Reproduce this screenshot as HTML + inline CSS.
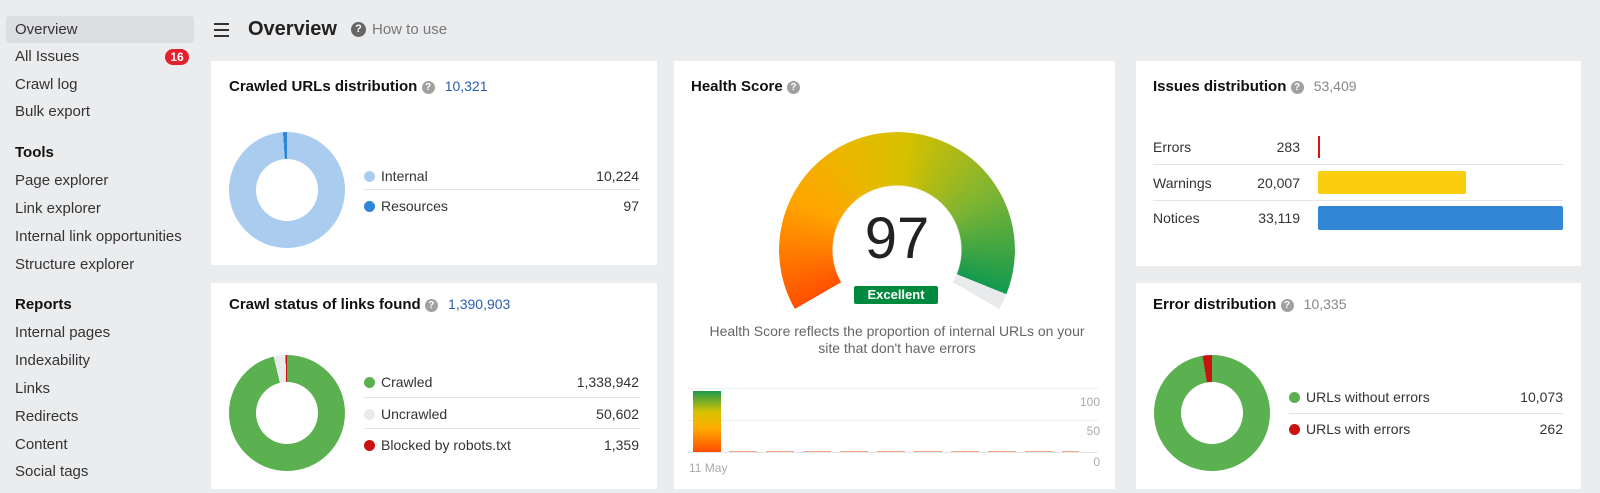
<!DOCTYPE html>
<html><head><meta charset="utf-8"><style>
*{margin:0;padding:0;box-sizing:border-box}
body{width:1600px;height:493px;background:#ebecee;font-family:"Liberation Sans",Arial,sans-serif;color:#333;position:relative;overflow:hidden}
.a{position:absolute;white-space:nowrap}
.sb{font-size:15px;color:#333;left:15px;line-height:18px}
.card{position:absolute;background:#fff}
.tt{font-size:15px;font-weight:bold;color:#111}
.q{display:inline-block;width:13px;height:13px;border-radius:50%;background:#a0a0a0;color:#fff;font-size:10px;font-weight:bold;text-align:center;line-height:13px;vertical-align:1px}
.blue{color:#2a5fb0}
.donut{position:absolute;width:116px;height:116px;border-radius:50%}
.donut::after{content:"";position:absolute;left:27px;top:27px;width:62px;height:62px;border-radius:50%;background:#fff}
.dot{position:absolute;width:11px;height:11px;border-radius:50%}
.lg{font-size:14px;color:#333}
.sep{position:absolute;height:1px;background:#e4e5e8}
</style></head><body>
<div class="a" style="left:6px;top:16px;width:188px;height:27px;background:#dcdee2;border-radius:3px"></div>
<div class="a sb" style="top:21px">Overview</div>
<div class="a sb" style="top:48px">All Issues</div>
<div class="a" style="left:165px;top:49px;width:24px;height:16px;border-radius:8px;background:#e5202e;color:#fff;font-size:12px;font-weight:bold;text-align:center;line-height:16px">16</div>
<div class="a sb" style="top:76px">Crawl log</div>
<div class="a sb" style="top:103px">Bulk export</div>
<div class="a sb" style="top:144px;font-weight:bold;color:#111">Tools</div>
<div class="a sb" style="top:172px">Page explorer</div>
<div class="a sb" style="top:200px">Link explorer</div>
<div class="a sb" style="top:228px">Internal link opportunities</div>
<div class="a sb" style="top:256px">Structure explorer</div>
<div class="a sb" style="top:296px;font-weight:bold;color:#111">Reports</div>
<div class="a sb" style="top:324px">Internal pages</div>
<div class="a sb" style="top:352px">Indexability</div>
<div class="a sb" style="top:380px">Links</div>
<div class="a sb" style="top:408px">Redirects</div>
<div class="a sb" style="top:436px">Content</div>
<div class="a sb" style="top:463px">Social tags</div>

<div class="a" style="left:214px;top:23px;width:15px;height:2px;background:#333;box-shadow:0 6px 0 #333,0 12px 0 #333"></div>
<div class="a" style="left:248px;top:18px;font-size:20px;font-weight:bold;color:#222">Overview</div>
<div class="a" style="left:351px;top:22px;width:15px;height:15px;border-radius:50%;background:#666;color:#fff;font-size:11px;font-weight:bold;text-align:center;line-height:15px">?</div>
<div class="a" style="left:372px;top:21px;font-size:15px;color:#777">How to use</div>

<!-- card1 -->
<div class="card" style="left:211px;top:61px;width:446px;height:204px">
 <div class="a tt" style="left:18px;top:17px">Crawled URLs distribution <span class="q">?</span> <span class="blue" style="font-weight:normal;font-size:14px;margin-left:6px">10,321</span></div>
 <div class="donut" style="left:18px;top:71px;background:conic-gradient(#a9ccef 0 98.9%,#2e86d6 98.9% 100%)"></div>
 <div class="dot" style="left:153px;top:110px;background:#a9ccef"></div>
 <div class="a lg" style="left:170px;top:107px">Internal</div>
 <div class="a lg" style="right:18px;top:107px">10,224</div>
 <div class="sep" style="left:153px;width:276px;top:128px"></div>
 <div class="dot" style="left:153px;top:140px;background:#2e86d6"></div>
 <div class="a lg" style="left:170px;top:137px">Resources</div>
 <div class="a lg" style="right:18px;top:137px">97</div>
</div>

<!-- card2 -->
<div class="card" style="left:211px;top:283px;width:446px;height:206px">
 <div class="a tt" style="left:18px;top:13px">Crawl status of links found <span class="q">?</span> <span class="blue" style="font-weight:normal;font-size:14px;margin-left:6px">1,390,903</span></div>
 <div class="donut" style="left:18px;top:72px;background:conic-gradient(#5bb04f 0 96.3%,#e9eaec 96.3% 99.6%,#cc1111 99.6% 100%)"></div>
 <div class="dot" style="left:153px;top:94px;background:#5bb04f"></div>
 <div class="a lg" style="left:170px;top:91px">Crawled</div>
 <div class="a lg" style="right:18px;top:91px">1,338,942</div>
 <div class="sep" style="left:153px;width:276px;top:114px"></div>
 <div class="dot" style="left:153px;top:126px;background:#e9eaec"></div>
 <div class="a lg" style="left:170px;top:123px">Uncrawled</div>
 <div class="a lg" style="right:18px;top:123px">50,602</div>
 <div class="sep" style="left:153px;width:276px;top:145px"></div>
 <div class="dot" style="left:153px;top:157px;background:#cc1111"></div>
 <div class="a lg" style="left:170px;top:154px">Blocked by robots.txt</div>
 <div class="a lg" style="right:18px;top:154px">1,359</div>
</div>

<!-- health -->
<div class="card" style="left:674px;top:61px;width:441px;height:428px">
 <div class="a tt" style="left:17px;top:17px">Health Score <span class="q">?</span></div>
 <div class="a" style="left:105px;top:71px;width:236px;height:236px;border-radius:50%;background:conic-gradient(from 240deg,#ff5000 0deg,#ffa400 55deg,#e9b800 95deg,#d6c000 125deg,#7cb433 180deg,#139a4f 232deg,#e9eaec 232deg,#e9eaec 240deg,transparent 240deg);-webkit-mask:radial-gradient(circle,transparent 64px,#000 65px);mask:radial-gradient(circle,transparent 64px,#000 65px)"></div>
 <div class="a" style="left:0;width:446px;text-align:center;top:146px;font-size:58px;color:#222;line-height:64px">97</div>
 <div class="a" style="left:180px;top:225px;width:84px;height:18px;background:#008a3e;border-radius:2px;color:#fff;font-size:13px;font-weight:bold;text-align:center;line-height:18px">Excellent</div>
 <div class="a" style="left:0;width:446px;text-align:center;top:262px;font-size:14px;color:#666;line-height:17px">Health Score reflects the proportion of internal URLs on your<br>site that don't have errors</div>
 <div class="sep" style="left:14px;width:410px;top:327px;background:#eeeff1"></div>
 <div class="sep" style="left:14px;width:410px;top:359px;background:#eeeff1"></div>
 <div class="sep" style="left:14px;width:410px;top:391px;background:#e4e5e8"></div>
 <div class="a" style="left:19px;top:330px;width:28px;height:61px;background:linear-gradient(#1e9a4a,#d8c200 35%,#ffad00 60%,#ff4c00)"></div>
 <div class="a" style="left:55px;top:390px;width:350px;height:1px;background:repeating-linear-gradient(90deg,#f6a58a 0 28px,transparent 28px 37px)"></div>
 <div class="a" style="right:15px;top:334px;font-size:12px;color:#aaa">100</div>
 <div class="a" style="right:15px;top:363px;font-size:12px;color:#aaa">50</div>
 <div class="a" style="right:15px;top:394px;font-size:12px;color:#aaa">0</div>
 <div class="a" style="left:15px;top:400px;font-size:12px;color:#aaa">11 May</div>
</div>

<!-- issues -->
<div class="card" style="left:1136px;top:61px;width:445px;height:205px">
 <div class="a tt" style="left:17px;top:17px">Issues distribution <span class="q">?</span> <span style="font-weight:normal;font-size:14px;color:#888;margin-left:6px">53,409</span></div>
 <div class="a lg" style="left:17px;top:78px">Errors</div>
 <div class="a lg blue" style="right:281px;top:78px">283</div>
 <div class="a" style="left:182px;top:75px;width:2px;height:22px;background:#d11"></div>
 <div class="sep" style="left:17px;width:410px;top:103px"></div>
 <div class="a lg" style="left:17px;top:114px">Warnings</div>
 <div class="a lg blue" style="right:281px;top:114px">20,007</div>
 <div class="a" style="left:182px;top:110px;width:148px;height:23px;background:#fbcd0f;border-radius:2px"></div>
 <div class="sep" style="left:17px;width:410px;top:139px"></div>
 <div class="a lg" style="left:17px;top:149px">Notices</div>
 <div class="a lg blue" style="right:281px;top:149px">33,119</div>
 <div class="a" style="left:182px;top:145px;width:245px;height:24px;background:#3186d5;border-radius:2px"></div>
</div>

<!-- error distribution -->
<div class="card" style="left:1136px;top:283px;width:445px;height:206px">
 <div class="a tt" style="left:17px;top:13px">Error distribution <span class="q">?</span> <span style="font-weight:normal;font-size:14px;color:#888;margin-left:6px">10,335</span></div>
 <div class="donut" style="left:18px;top:72px;background:conic-gradient(#5bb04f 0 97.4%,#cc1111 97.4% 100%)"></div>
 <div class="dot" style="left:153px;top:109px;background:#5bb04f"></div>
 <div class="a lg" style="left:170px;top:106px">URLs without errors</div>
 <div class="a lg" style="right:18px;top:106px">10,073</div>
 <div class="sep" style="left:153px;width:274px;top:130px"></div>
 <div class="dot" style="left:153px;top:141px;background:#cc1111"></div>
 <div class="a lg" style="left:170px;top:138px">URLs with errors</div>
 <div class="a lg" style="right:18px;top:138px">262</div>
</div>
</body></html>
